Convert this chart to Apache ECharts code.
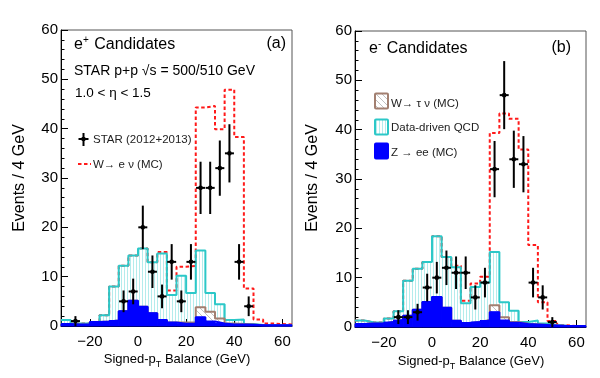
<!DOCTYPE html>
<html><head><meta charset="utf-8">
<script src="https://cdn.jsdelivr.net/npm/echarts@6/dist/echarts.min.js"></script>
<style>html,body{margin:0;padding:0;background:#fff}#c{width:600px;height:378px}</style>
</head><body><div id="c"></div>
<script>
// ---- data (bins of 4 GeV from -32 to 64) ----
const binEdges = [-32,-28,-24,-20,-16,-12,-8,-4,0,4,8,12,16,20,24,28,32,36,40,44,48,52,56,60,64];
const xTicks = [-20,0,20,40,60];

// panel (a) e+ : stacked tops
const zeeA   = [0.4,0.3,0.3,0.8,0.9,1.1,3.0,5.1,3.9,2.6,1.2,0.7,0.45,0.45,1.75,0.9,0.5,0.3,0.3,0.25,0.15,0.15,0.15,0.15];
const tauA   = [0.4,0.3,0.3,0.8,0.9,1.1,3.0,5.1,3.9,2.6,1.2,0.7,0.7,0.7,3.8,2.9,1.5,0.5,0.4,0.3,0.15,0.15,0.15,0.15];
const qcdA   = [1.2,0.5,0.5,0.8,2.2,8.0,12.2,14.3,15.7,12.9,14.7,6.3,10.2,6.7,15.3,6.7,4.4,1.2,1.3,0.4,0.2,0.15,0.15,0.15];
const wenuA  = [1.2,0.5,0.5,0.8,2.2,8.0,12.2,14.3,15.7,12.9,15.0,7.2,12.0,12.2,44.3,44.6,39.9,47.9,38.3,7.6,1.3,0.5,0.4,0.3];
const dataXA = [-26,-6,-2,2,6,10,14,18,22,26,30,34,38,42,46];
const dataYA = [1,5,7,20,11,6,13,5,13,28,28,32,35,13,4];
const dataEA = [1,2.2,2.6,4.4,3.3,2.4,3.6,2.2,3.6,5.3,5.3,5.6,5.9,3.6,2.0];

// panel (b) e- : stacked tops
const zeeB   = [0.6,0.7,0.7,1.0,1.4,2.3,3.5,5.05,6.1,3.9,1.25,0.8,1.0,1.3,3.0,1.3,0.85,0.6,0.5,0.4,0.3,0.2,0.2,0.2];
const tauB   = [0.6,0.7,0.7,1.0,1.4,2.3,3.5,5.05,6.1,3.9,1.25,0.8,1.0,1.4,4.4,2.0,1.0,0.65,0.55,0.4,0.3,0.2,0.2,0.2];
const qcdB   = [1.3,0.9,0.9,1.7,3.2,9.4,11.8,13.2,18.4,14.2,12.1,4.8,8.1,9.0,15.2,5.0,3.3,1.0,1.3,0.7,0.4,0.25,0.2,0.2];
const wenuB  = [1.3,0.9,0.9,1.7,3.2,9.4,11.8,13.2,18.4,14.2,12.4,5.3,8.8,10.2,39.3,43.3,42.2,36.0,16.6,5.0,1.2,0.35,0.2,0.2];
const dataXB = [-14,-10,-6,-2,2,6,10,14,18,22,26,30,34,38,42,46,50];
const dataYB = [2,2,3,8,10,12,11,11,6,9,32,47,34,33,9,6,1];
const dataEB = [1.4,1.4,1.7,2.8,3.2,3.5,3.3,3.3,2.45,3.0,5.7,6.9,5.8,5.7,3.0,2.45,1.0];

// ---- styles ----
const FONT = '"Liberation Sans", Arial, Helvetica, sans-serif';
const CYAN = '#2cc8c8', BROWN = '#a27f70', BLUE = '#0000ff', RED = '#ff1a1a';

function makePattern(kind) {
  const c = document.createElement('canvas');
  if (kind === 'v') {
    c.width = 3; c.height = 3;
    const g = c.getContext('2d');
    g.fillStyle = 'rgba(40,200,200,0.35)';
    g.fillRect(1, 0, 1, 3);
  } else {
    c.width = 6; c.height = 6;
    const g = c.getContext('2d');
    g.fillStyle = '#ffffff';
    g.fillRect(0, 0, 6, 6);
    g.strokeStyle = 'rgba(150,150,150,0.6)';
    g.lineWidth = 1;
    g.beginPath();
    g.moveTo(0, 0); g.lineTo(6, 6);
    g.moveTo(-3, 3); g.lineTo(3, 9);
    g.moveTo(3, -3); g.lineTo(9, 3);
    g.stroke();
  }
  return {image: c, repeat: 'repeat'};
}
const vHatch = makePattern('v');
const dHatch = makePattern('d');

function stepData(vals) {
  const d = vals.map((v, i) => [binEdges[i], v]);
  d.push([binEdges[binEdges.length - 1], vals[vals.length - 1]]);
  return d;
}
function histSeries(idx, vals, color, width, type, fill, z, zlevel) {
  const s = {
    type: 'line', xAxisIndex: idx, yAxisIndex: idx, z: z, zlevel: zlevel || 0, silent: true, step: 'end',
    showSymbol: false, symbol: 'none', data: stepData(vals),
    lineStyle: {color: color, width: width, type: type}
  };
  if (fill) s.areaStyle = {color: fill, opacity: 1, origin: 'start'};
  return s;
}
function solidBins(idx, vals, color, z, zlevel) {
  return {
    type: 'custom', xAxisIndex: idx, yAxisIndex: idx, z: z, zlevel: zlevel, silent: true,
    data: vals.map((v, i) => [binEdges[i], binEdges[i + 1], v]), encode: {x: [0, 1], y: 2},
    renderItem: function (params, api) {
      const p0 = api.coord([api.value(0), 0]);
      const p1 = api.coord([api.value(1), api.value(2)]);
      return {type: 'rect', shape: {x: p0[0], y: p1[1], width: p1[0] - p0[0], height: p0[1] - p1[1]},
              style: {fill: color, stroke: color, lineWidth: 1}};
    }
  };
}
function pointSeries(idx, xs, ys, es) {
  return {
    type: 'custom', xAxisIndex: idx, yAxisIndex: idx, z: 20, zlevel: 2, silent: true,
    data: xs.map((x, i) => [x, ys[i], es[i]]), encode: {x: 0, y: 1},
    renderItem: function (params, api) {
      const x = api.value(0), y = api.value(1), e = api.value(2);
      const c = api.coord([x, y]), lo = api.coord([x, y - e]), hi = api.coord([x, y + e]);
      return {type: 'group', children: [
        {type: 'line', shape: {x1: c[0], y1: lo[1], x2: c[0], y2: hi[1]}, style: {stroke: '#000', lineWidth: 2}},
        {type: 'line', shape: {x1: c[0] - 4.5, y1: c[1], x2: c[0] + 4.5, y2: c[1]}, style: {stroke: '#000', lineWidth: 2}},
        {type: 'circle', shape: {cx: c[0], cy: c[1], r: 2.3}, style: {fill: '#000'}}
      ]};
    }
  };
}
function panelSeries(idx, zee, tau, qcd, wenu, dx, dy, de) {
  return [
    histSeries(idx, wenu, RED, 2, [3.5, 2.5], null, 2, 0),
    histSeries(idx, qcd, CYAN, 2, 'solid', vHatch, 3, 0),
    histSeries(idx, tau, BROWN, 2, 'solid', dHatch, 5, 0),
    solidBins(idx, zee, BLUE, 6, 1),
    histSeries(idx, zee, BLUE, 2, 'solid', null, 7, 1),
    pointSeries(idx, dx, dy, de)
  ];
}
function xAxisCfg(idx) {
  return {
    gridIndex: idx, type: 'value', min: -32, max: 64,
    axisLine: {show: true, onZero: false, lineStyle: {color: '#000', width: 1}},
    axisTick: {show: true, inside: true, length: 7, customValues: xTicks, lineStyle: {color: '#000'}},
    axisLabel: {customValues: xTicks, fontSize: 15, color: '#000', margin: 8, fontFamily: FONT,
                formatter: v => String(v).replace('-', '\u2212')},
    splitLine: {show: false}
  };
}
function yAxisCfg(idx) {
  return {
    gridIndex: idx, type: 'value', min: 0, max: 60, interval: 10,
    axisLine: {show: true, onZero: false, lineStyle: {color: '#000', width: 1}},
    axisTick: {show: true, inside: true, length: 7, lineStyle: {color: '#000'}},
    minorTick: {show: true, splitNumber: 5, length: 3.5, lineStyle: {color: '#000'}},
    axisLabel: {fontSize: 15, color: '#000', margin: 3, fontFamily: FONT},
    splitLine: {show: false}
  };
}
function txt(x, y, text, size, extra) {
  return Object.assign({type: 'text', x: x, y: y, z: 50, zlevel: 3, silent: true,
    style: Object.assign({text: text, fontSize: size, fontFamily: FONT, fill: '#000',
      verticalAlign: 'middle'}, extra && extra.style)},
    extra && extra.el);
}
function richTxt(x, y, text, size, rich, align, rotation) {
  return {type: 'text', x: x, y: y, z: 50, zlevel: 3, silent: true, rotation: rotation || 0,
    style: {text: text, fontSize: size, fontFamily: FONT, fill: '#000', align: align || 'left',
      verticalAlign: 'middle', rich: rich}};
}
const supRich = {n: {fontSize: 16, fontFamily: FONT}, s: {fontSize: 10, fontFamily: FONT, padding: [0, 1, 9, 0]}};
const subRich = {n: {fontSize: 13, fontFamily: FONT}, s: {fontSize: 9, fontFamily: FONT, padding: [12, 0, 0, 0]}};

const graphics = [
  // panel a texts
  richTxt(74, 45, '{n|e}{s|+}{n| Candidates}', 16, supRich),
  txt(286, 44, '(a)', 16, {style: {align: 'right'}}),
  txt(74, 71, 'STAR p+p \u221As = 500/510 GeV', 14),
  txt(75, 93, '1.0 < \u03b7 < 1.5', 13.5),
  {type: 'line', z: 50, zlevel: 3, shape: {x1: 83.5, y1: 133, x2: 83.5, y2: 146}, style: {stroke: '#000', lineWidth: 2}},
  {type: 'line', z: 50, zlevel: 3, shape: {x1: 78.5, y1: 139, x2: 88.5, y2: 139}, style: {stroke: '#000', lineWidth: 2}},
  {type: 'circle', z: 50, zlevel: 3, shape: {cx: 83.5, cy: 139, r: 2.3}, style: {fill: '#000'}},
  txt(93, 139.5, 'STAR (2012+2013)', 11.5, {style: {fill: '#222'}}),
  {type: 'line', z: 50, zlevel: 3, shape: {x1: 78, y1: 164, x2: 91, y2: 164}, style: {stroke: RED, lineWidth: 2, lineDash: [3.5, 2.5]}},
  txt(93, 164.5, 'W\u2192 e \u03bd (MC)', 11.5, {style: {fill: '#222'}}),
  richTxt(20, 178, 'Events / 4 GeV', 16, null, 'center', Math.PI / 2),
  richTxt(177, 359, '{n|Signed-p}{s|T}{n| Balance (GeV)}', 13, subRich, 'center'),
  // panel b texts
  richTxt(369, 49, '{n|e}{s|-}{n| Candidates}', 16, supRich),
  txt(571, 48, '(b)', 16, {style: {align: 'right'}}),
  {type: 'rect', z: 50, zlevel: 3, shape: {x: 375, y: 93.5, width: 13, height: 15, r: 1}, style: {fill: dHatch, stroke: BROWN, lineWidth: 2}},
  txt(391, 103.5, 'W\u2192 \u03c4 \u03bd (MC)', 11.5, {style: {fill: '#222'}}),
  {type: 'rect', z: 50, zlevel: 3, shape: {x: 375, y: 119.5, width: 13, height: 15, r: 1}, style: {fill: vHatch, stroke: CYAN, lineWidth: 2}},
  txt(391, 127.5, 'Data-driven QCD', 11.5, {style: {fill: '#222'}}),
  {type: 'rect', z: 50, zlevel: 3, shape: {x: 375, y: 143.5, width: 13, height: 15, r: 1}, style: {fill: BLUE, stroke: BLUE, lineWidth: 2}},
  txt(391, 152.5, 'Z \u2192 ee (MC)', 11.5, {style: {fill: '#222'}}),
  richTxt(313, 178, 'Events / 4 GeV', 16, null, 'center', Math.PI / 2),
  richTxt(471, 361, '{n|Signed-p}{s|T}{n| Balance (GeV)}', 13, subRich, 'center')
];

const chart = echarts.init(document.getElementById('c'), null, {renderer: 'canvas'});
chart.setOption({
  animation: false,
  backgroundColor: '#fff',
  textStyle: {fontFamily: FONT},
  grid: [
    {left: 61, top: 30, width: 231, height: 296, show: true, borderColor: '#555', borderWidth: 1, backgroundColor: 'transparent'},
    {left: 355, top: 31, width: 231, height: 296, show: true, borderColor: '#555', borderWidth: 1, backgroundColor: 'transparent'}
  ],
  xAxis: [xAxisCfg(0), xAxisCfg(1)],
  yAxis: [yAxisCfg(0), yAxisCfg(1)],
  series: [].concat(
    panelSeries(0, zeeA, tauA, qcdA, wenuA, dataXA, dataYA, dataEA),
    panelSeries(1, zeeB, tauB, qcdB, wenuB, dataXB, dataYB, dataEB)
  ),
  graphic: graphics
});
</script></body></html>
